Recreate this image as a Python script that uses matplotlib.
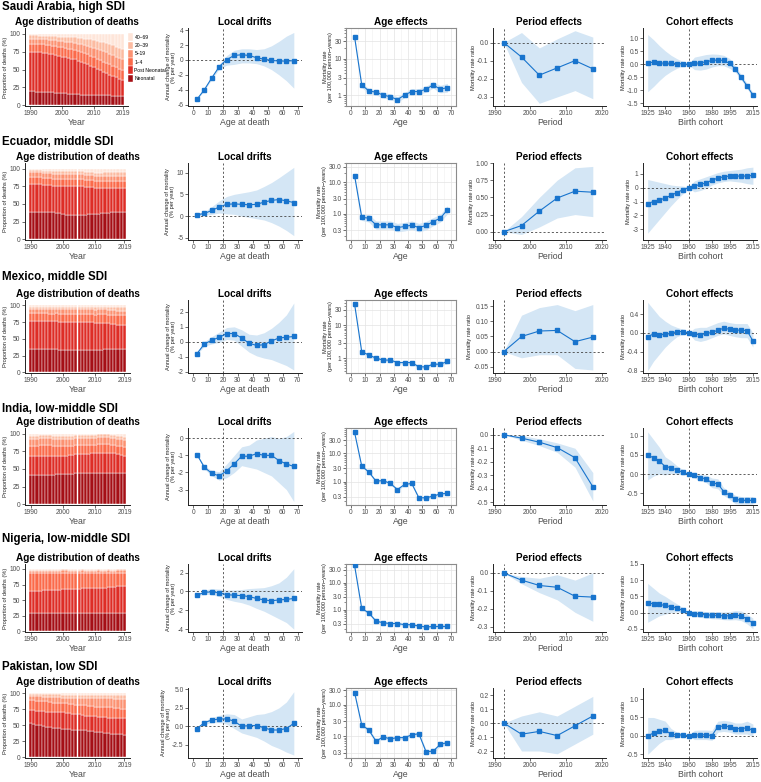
import numpy as np
import matplotlib.pyplot as plt
from matplotlib.ticker import FixedLocator, NullFormatter

plt.rcParams['font.family'] = ['Liberation Sans', 'DejaVu Sans']
plt.rcParams['axes.unicode_minus'] = False

years = np.arange(1990, 2020)
ages = [2.5, 7.5, 12.5, 17.5, 22.5, 27.5, 32.5, 37.5, 42.5, 47.5, 52.5, 57.5, 62.5, 67.5]
periods = [1992.5, 1997.5, 2002.5, 2007.5, 2012.5, 2017.5]
cohorts = list(range(1925, 2016, 5))
groups = ['Neonatal', 'Post Neonatal', '1–4', '5–19', '20–39', '40–69']
group_colors = ['#A50F15', '#DE2D26', '#FB6A4A', '#FC9272', '#FCBBA1', '#FEE5D9']

# ---- Saudi Arabia ----
sa_neo = [20,20,19,19,19,18,18,18,17,17,17,17,16,16,16,16,15,15,15,15,15,14,14,14,14,14,13,13,13,13]
sa_post = [55,55,55,55,54,55,54,53,53,52,51,50,50,49,48,46,46,44,42,40,38,37,35,33,31,29,28,26,24,22]
sa_c14 = [11,11,11,11,12,11,12,12,13,13,13,13,13,13,13,14,13,14,14,14,14,14,14,14,14,14,14,14,14,14]
sa_c519 = [7,7,7,7,7,8,7,8,8,8,9,9,10,10,10,10,11,11,12,13,13,14,14,15,15,15,15,15,15,15]
sa_c2039 = [5,5,6,5,5,5,6,6,6,6,6,7,6,7,8,8,9,9,9,10,11,11,12,12,13,13,14,14,14,14]
sa_drift = [-5.3,-4.0,-2.4,-0.9,0.05,0.6,0.7,0.6,0.3,0.1,-0.05,-0.15,-0.15,-0.1]
sa_drift_lo = [-5.4,-4.1,-2.6,-1.2,-0.7,-0.6,-0.4,-0.4,-0.5,-0.8,-1.3,-2.0,-2.8,-3.8]
sa_drift_hi = [-5.2,-3.9,-2.2,-0.6,0.6,1.3,1.5,1.5,1.4,1.5,1.9,2.5,3.2,3.7]
sa_age = [40,1.9,1.3,1.2,1.0,0.9,0.75,1.0,1.25,1.25,1.45,1.9,1.45,1.6]
sa_age_lo = [36,1.6,1.1,1.0,0.85,0.75,0.63,0.85,1.05,1.05,1.2,1.55,1.15,1.2]
sa_age_hi = [44,2.2,1.5,1.4,1.18,1.08,0.9,1.18,1.5,1.5,1.75,2.3,1.85,2.1]
sa_per = [0,-0.08,-0.18,-0.14,-0.10,-0.145]
sa_per_lo = [0,-0.22,-0.335,-0.30,-0.265,-0.31]
sa_per_hi = [0,0.055,-0.03,0.02,0.065,0.03]
sa_coh = [0.07,0.08,0.05,0.05,0.04,0.03,0.02,0.0,0.04,0.06,0.1,0.15,0.17,0.15,0.04,-0.18,-0.5,-0.83,-1.18]
sa_coh_lo = [-1.05,-0.85,-0.62,-0.42,-0.27,-0.15,-0.07,-0.02,-0.2,-0.22,-0.18,-0.1,-0.05,-0.05,-0.15,-0.3,-0.6,-0.93,-1.28]
sa_coh_hi = [1.15,0.95,0.72,0.52,0.35,0.22,0.11,0.02,0.28,0.33,0.38,0.4,0.39,0.35,0.23,-0.06,-0.4,-0.73,-1.08]

# ---- Ecuador ----
ec_neo = [38,38,38,38,38,38,38,38,37,37,36,35,34,34,34,35,35,35,36,36,36,36,37,37,37,38,38,38,38,38]
ec_post = [40,40,40,40,39,39,39,38,39,39,40,41,42,41,41,40,40,39,38,38,37,37,36,36,36,35,35,35,35,35]
ec_c14 = [10,10,10,10,10,10,10,10,10,10,10,10,10,10,10,10,10,10,10,10,10,10,10,10,10,10,10,10,10,10]
ec_c519 = [7,7,7,7,7,7,7,7,7,7,7,7,7,7,7,7,7,7,7,7,7,7,7,7,7,7,7,7,7,7]
ec_c2039 = [3,3,3,3,3,3,3,3,3,3,4,4,4,4,4,4,4,4,4,4,4,4,4,5,5,5,5,5,5,5]
ec_drift = [0.3,0.6,1.3,2.1,2.7,2.8,2.7,2.6,2.7,3.2,3.6,3.8,3.5,3.1]
ec_drift_lo = [0.1,0.2,0.4,0.7,0.5,0.4,0.0,-0.3,-0.6,-0.9,-1.5,-2.3,-3.3,-4.5]
ec_drift_hi = [0.5,1.0,2.2,3.5,4.5,5.0,5.3,5.6,6.0,6.8,7.7,8.8,10.0,11.2]
ec_age = [16,0.78,0.73,0.45,0.45,0.45,0.37,0.40,0.44,0.37,0.43,0.57,0.73,1.34]
ec_age_lo = [14,0.62,0.55,0.33,0.33,0.33,0.27,0.29,0.32,0.27,0.31,0.42,0.55,1.0]
ec_age_hi = [18,0.98,0.95,0.6,0.6,0.6,0.5,0.54,0.6,0.5,0.58,0.76,0.97,1.8]
ec_per = [0,0.09,0.30,0.49,0.59,0.575]
ec_per_lo = [0,-0.04,0.07,0.20,0.25,0.22]
ec_per_hi = [0,0.22,0.50,0.75,0.93,0.95]
ec_coh = [-1.15,-1.0,-0.9,-0.75,-0.55,-0.35,-0.15,0.0,0.12,0.25,0.35,0.55,0.7,0.8,0.85,0.85,0.85,0.85,0.9]
ec_coh_lo = [-3.3,-2.8,-2.3,-1.8,-1.3,-0.85,-0.45,-0.05,-0.3,-0.2,-0.05,0.2,0.35,0.45,0.5,0.45,0.4,0.3,0.25]
ec_coh_hi = [0.6,0.5,0.4,0.3,0.2,0.15,0.12,0.05,0.5,0.65,0.8,0.95,1.1,1.2,1.25,1.3,1.35,1.45,1.5]

# ---- Mexico ----
mx_neo = [35,35,35,35,35,35,35,35,35,34,34,34,34,34,34,34,34,34,34,34,34,34,34,35,35,35,35,35,35,35]
mx_post = [42,42,42,42,42,42,41,41,41,41,41,41,41,41,41,41,41,41,41,41,40,40,40,39,38,37,37,36,36,36]
mx_c14 = [11,11,11,11,11,11,11,11,12,12,12,12,12,12,12,12,12,12,12,12,12,13,13,13,13,14,14,14,14,14]
mx_c519 = [7,7,7,7,7,7,7,7,7,7,7,7,7,7,7,7,7,7,7,7,7,7,7,7,7,7,7,7,7,7]
mx_c2039 = [3,3,3,3,3,3,3,3,3,3,3,4,4,4,4,4,4,4,4,4,4,4,4,4,5,5,5,5,5,5]
mx_drift = [-0.8,-0.15,0.1,0.3,0.55,0.55,0.25,-0.1,-0.25,-0.2,0.05,0.25,0.3,0.35]
mx_drift_lo = [-0.85,-0.3,-0.15,-0.05,0.15,0.1,-0.3,-0.7,-0.95,-1.1,-1.2,-1.4,-1.6,-1.9]
mx_drift_hi = [-0.75,0.0,0.35,0.65,0.95,1.0,0.8,0.5,0.45,0.6,0.9,1.3,1.8,2.6]
mx_age = [45,1.57,1.24,1.0,0.87,0.87,0.73,0.73,0.73,0.54,0.54,0.65,0.65,0.79]
mx_age_lo = [41,1.42,1.12,0.9,0.78,0.78,0.66,0.66,0.66,0.48,0.48,0.58,0.57,0.68]
mx_age_hi = [49,1.73,1.37,1.1,0.96,0.96,0.81,0.81,0.81,0.6,0.61,0.73,0.74,0.92]
mx_per = [0,0.05,0.068,0.07,0.033,0.048]
mx_per_lo = [0,-0.02,-0.01,-0.01,-0.055,-0.06]
mx_per_hi = [0,0.12,0.145,0.155,0.135,0.155]
mx_coh = [-0.08,-0.02,-0.04,-0.03,-0.01,0.03,0.03,0.0,-0.02,-0.04,-0.01,0.01,0.06,0.1,0.08,0.06,0.06,0.05,-0.17]
mx_coh_lo = [-0.8,-0.6,-0.45,-0.3,-0.18,-0.08,-0.03,-0.01,-0.15,-0.18,-0.15,-0.1,-0.05,-0.02,-0.05,-0.08,-0.1,-0.1,-0.3]
mx_coh_hi = [0.65,0.5,0.35,0.25,0.17,0.12,0.08,0.01,0.1,0.12,0.12,0.17,0.22,0.25,0.22,0.2,0.2,0.2,0.0]

# ---- India ----
in_neo = [41,41,41,42,42,42,42,42,43,43,43,43,43,43,44,44,44,44,44,44,44,45,45,45,45,45,45,45,45,45]
in_post = [27,27,27,27,27,27,27,27,26,26,26,26,27,27,27,27,27,27,27,28,28,28,28,28,28,27,27,26,25,24]
in_c14 = [15,15,15,15,15,15,15,14,14,14,14,14,13,13,13,13,13,13,13,12,12,12,12,12,12,12,12,12,12,12]
in_c519 = [10,10,10,10,10,10,10,10,10,10,10,10,10,10,10,10,10,10,10,10,10,10,10,10,10,10,10,10,10,10]
in_c2039 = [4,4,4,4,4,4,4,4,4,4,4,4,4,4,4,4,4,4,4,4,4,4,4,4,4,4,4,4,4,4]
in_drift = [-0.95,-1.7,-2.05,-2.2,-1.9,-1.5,-1.05,-1.05,-0.9,-1.0,-1.0,-1.3,-1.5,-1.65]
in_drift_lo = [-1.0,-1.8,-2.2,-2.45,-2.3,-2.0,-1.6,-1.7,-1.8,-2.0,-2.2,-2.6,-3.0,-3.7]
in_drift_hi = [-0.9,-1.6,-1.9,-1.95,-1.5,-1.0,-0.5,-0.4,-0.1,0.0,0.1,0.0,0.1,0.4]
in_age = [56,3.6,2.2,1.05,1.1,0.87,0.53,0.8,0.87,0.27,0.27,0.31,0.37,0.39]
in_age_lo = [52,3.3,2.0,0.95,1.0,0.79,0.48,0.72,0.79,0.24,0.24,0.28,0.33,0.35]
in_age_hi = [60,3.9,2.4,1.15,1.2,0.96,0.59,0.88,0.96,0.3,0.3,0.35,0.41,0.44]
in_per = [0,-0.025,-0.055,-0.095,-0.17,-0.385]
in_per_lo = [0,-0.04,-0.08,-0.13,-0.24,-0.49]
in_per_hi = [0,-0.005,-0.03,-0.06,-0.10,-0.28]
in_coh = [0.49,0.43,0.34,0.2,0.17,0.11,0.05,0.0,-0.03,-0.09,-0.12,-0.23,-0.25,-0.45,-0.55,-0.65,-0.68,-0.68,-0.68]
in_coh_lo = [-0.15,-0.05,0.0,-0.02,0.02,0.0,-0.02,-0.01,-0.1,-0.17,-0.22,-0.35,-0.38,-0.55,-0.65,-0.77,-0.78,-0.78,-0.78]
in_coh_hi = [1.1,0.9,0.7,0.45,0.35,0.22,0.12,0.01,0.02,0.0,-0.02,-0.1,-0.12,-0.35,-0.45,-0.55,-0.58,-0.58,-0.58]

# ---- Nigeria ----
ng_neo = [29,29,29,29,29,29,29,30,30,30,30,30,30,30,30,30,30,30,30,30,30,30,30,30,30,30,30,30,30,30]
ng_post = [36,36,36,36,37,37,37,37,37,37,38,38,38,38,38,38,39,39,39,39,39,40,40,40,41,41,41,42,42,42]
ng_c14 = [28,28,28,28,27,27,27,26,26,26,26,26,25,25,25,25,25,24,24,24,24,24,23,23,23,22,22,22,22,22]
ng_c519 = [4,4,4,4,4,4,4,4,4,4,4,4,4,4,4,4,4,4,4,4,4,4,4,4,4,4,4,4,4,4]
ng_c2039 = [2,2,2,2,2,2,2,2,2,2,2,2,2,2,2,2,2,2,2,2,2,2,2,2,2,2,2,2,2,2]
ng_drift = [-0.4,-0.1,-0.05,-0.15,-0.35,-0.4,-0.45,-0.55,-0.75,-0.9,-1.0,-0.9,-0.85,-0.75]
ng_drift_lo = [-0.5,-0.3,-0.35,-0.55,-0.85,-1.05,-1.2,-1.45,-1.8,-2.1,-2.5,-2.9,-3.3,-4.0]
ng_drift_hi = [-0.3,0.15,0.3,0.25,0.15,0.15,0.2,0.3,0.35,0.4,0.6,0.9,1.5,2.4]
ng_age = [44,1.13,0.76,0.38,0.33,0.31,0.31,0.28,0.28,0.25,0.23,0.24,0.24,0.24]
ng_age_lo = [40,1.02,0.68,0.34,0.3,0.28,0.28,0.25,0.25,0.22,0.2,0.21,0.21,0.2]
ng_age_hi = [48,1.25,0.84,0.42,0.37,0.34,0.34,0.31,0.31,0.28,0.26,0.27,0.28,0.29]
ng_per = [0,-0.04,-0.07,-0.08,-0.13,-0.135]
ng_per_lo = [0,-0.06,-0.11,-0.15,-0.22,-0.27]
ng_per_hi = [0,-0.02,-0.03,-0.01,-0.04,0.0]
ng_coh = [0.3,0.27,0.25,0.22,0.18,0.14,0.07,0.0,-0.03,-0.05,-0.07,-0.08,-0.09,-0.1,-0.1,-0.08,-0.1,-0.2,-0.33]
ng_coh_lo = [-0.3,-0.2,-0.1,-0.05,0.0,0.02,0.0,-0.01,-0.12,-0.15,-0.17,-0.19,-0.2,-0.22,-0.23,-0.22,-0.25,-0.35,-0.5]
ng_coh_hi = [0.9,0.75,0.6,0.5,0.38,0.27,0.15,0.01,0.06,0.05,0.03,0.03,0.02,0.02,0.03,0.06,0.05,-0.05,-0.17]

# ---- Pakistan ----
pk_neo = [53,52,51,50,49,48,47,46,45,45,44,44,44,43,43,43,42,42,41,41,40,39,39,38,38,37,37,36,36,35]
pk_post = [20,21,21,22,23,23,24,24,25,25,26,25,25,25,25,24,24,23,23,23,24,24,24,25,24,25,25,25,25,26]
pk_c14 = [16,16,16,16,15,16,15,15,15,14,14,15,14,15,14,15,15,16,16,16,15,16,16,15,16,16,15,16,15,15]
pk_c519 = [6,6,7,7,7,7,8,9,9,10,9,9,10,10,11,11,12,12,13,13,13,13,13,14,14,14,14,14,15,15]
pk_c2039 = [3,3,3,3,4,4,4,4,4,4,4,4,4,4,4,4,4,4,4,4,5,5,5,5,5,5,6,6,6,6]
pk_drift = [-0.3,0.5,0.85,1.0,1.0,0.7,0.0,0.1,0.1,-0.2,-0.5,-0.5,-0.3,0.4]
pk_drift_lo = [-0.35,0.3,0.5,0.5,0.3,-0.3,-0.9,-1.2,-1.5,-2.0,-2.6,-3.0,-3.5,-3.9]
pk_drift_hi = [-0.25,0.7,1.2,1.5,1.7,1.6,1.0,1.3,1.6,1.7,2.0,2.5,3.3,4.7]
pk_age = [25,2.3,1.57,0.69,0.95,0.82,0.9,0.9,1.1,1.2,0.32,0.33,0.55,0.62]
pk_age_lo = [22,2.0,1.38,0.6,0.83,0.72,0.79,0.79,0.96,1.05,0.27,0.28,0.47,0.52]
pk_age_hi = [28,2.6,1.78,0.79,1.08,0.93,1.02,1.02,1.25,1.37,0.37,0.38,0.64,0.74]
pk_per = [0,-0.08,-0.06,-0.09,-0.02,0.05]
pk_per_lo = [0,-0.2,-0.2,-0.22,-0.15,-0.08]
pk_per_hi = [0,0.05,0.08,0.05,0.12,0.19]
pk_coh = [0.0,0.08,0.12,0.15,0.05,0.02,0.03,0.0,0.02,0.03,0.03,0.01,0.25,0.27,0.25,0.2,0.2,0.22,0.15]
pk_coh_lo = [-0.5,-0.35,-0.2,-0.1,-0.1,-0.05,-0.02,-0.01,-0.1,-0.1,-0.1,-0.12,0.1,0.12,0.1,0.05,0.05,0.05,-0.02]
pk_coh_hi = [0.5,0.5,0.45,0.4,0.2,0.1,0.08,0.01,0.15,0.16,0.16,0.15,0.4,0.42,0.4,0.35,0.35,0.4,0.32]

titles = ['Saudi Arabia, high SDI', 'Ecuador, middle SDI', 'Mexico, middle SDI',
          'India, low-middle SDI', 'Nigeria, low-middle SDI', 'Pakistan, low SDI']

rows = [
    dict(bars=[sa_neo, sa_post, sa_c14, sa_c519, sa_c2039],
         drift=(sa_drift, sa_drift_lo, sa_drift_hi), dyl=(-6.2, 4.3), dyt=[-6, -4, -2, 0, 2, 4], dfmt='{:.0f}',
         age=(sa_age, sa_age_lo, sa_age_hi), ayl=(0.5, 70), ayt=[1, 3, 10, 30], afmt='{:g}',
         per=(sa_per, sa_per_lo, sa_per_hi), pyl=(-0.35, 0.08), pyt=[-0.3, -0.2, -0.1, 0.0], pfmt='{:.1f}',
         coh=(sa_coh, sa_coh_lo, sa_coh_hi), cyl=(-1.6, 1.4), cyt=[-1.5, -1.0, -0.5, 0.0, 0.5, 1.0], cfmt='{:.1f}'),
    dict(bars=[ec_neo, ec_post, ec_c14, ec_c519, ec_c2039],
         drift=(ec_drift, ec_drift_lo, ec_drift_hi), dyl=(-5.5, 12.2), dyt=[-5, 0, 5, 10], dfmt='{:.0f}',
         age=(ec_age, ec_age_lo, ec_age_hi), ayl=(0.15, 40), ayt=[0.3, 1, 3, 10, 30], afmt='{:.1f}',
         per=(ec_per, ec_per_lo, ec_per_hi), pyl=(-0.12, 1.0), pyt=[0, 0.25, 0.5, 0.75, 1.0], pfmt='{:.2f}',
         coh=(ec_coh, ec_coh_lo, ec_coh_hi), cyl=(-3.8, 1.8), cyt=[-3, -2, -1, 0, 1], cfmt='{:.0f}'),
    dict(bars=[mx_neo, mx_post, mx_c14, mx_c519, mx_c2039],
         drift=(mx_drift, mx_drift_lo, mx_drift_hi), dyl=(-2.1, 2.8), dyt=[-2, -1, 0, 1, 2], dfmt='{:.0f}',
         age=(mx_age, mx_age_lo, mx_age_hi), ayl=(0.35, 60), ayt=[1, 3, 10, 30], afmt='{:g}',
         per=(mx_per, mx_per_lo, mx_per_hi), pyl=(-0.07, 0.17), pyt=[-0.05, 0, 0.05, 0.1, 0.15], pfmt='{:.2f}',
         coh=(mx_coh, mx_coh_lo, mx_coh_hi), cyl=(-0.85, 0.7), cyt=[-0.8, -0.4, 0.0, 0.4], cfmt='{:.1f}'),
    dict(bars=[in_neo, in_post, in_c14, in_c519, in_c2039],
         drift=(in_drift, in_drift_lo, in_drift_hi), dyl=(-3.9, 0.6), dyt=[-3, -2, -1, 0], dfmt='{:.0f}',
         age=(in_age, in_age_lo, in_age_hi), ayl=(0.15, 80), ayt=[0.3, 1, 3, 10, 30], afmt='{:.1f}',
         per=(in_per, in_per_lo, in_per_hi), pyl=(-0.52, 0.05), pyt=[-0.5, -0.4, -0.3, -0.2, -0.1, 0.0], pfmt='{:.1f}',
         coh=(in_coh, in_coh_lo, in_coh_hi), cyl=(-0.8, 1.2), cyt=[-0.5, 0.0, 0.5, 1.0], cfmt='{:.1f}'),
    dict(bars=[ng_neo, ng_post, ng_c14, ng_c519, ng_c2039],
         drift=(ng_drift, ng_drift_lo, ng_drift_hi), dyl=(-4.3, 2.9), dyt=[-4, -2, 0, 2], dfmt='{:.0f}',
         age=(ng_age, ng_age_lo, ng_age_hi), ayl=(0.15, 50), ayt=[0.3, 1, 3, 10, 30], afmt='{:.1f}',
         per=(ng_per, ng_per_lo, ng_per_hi), pyl=(-0.33, 0.05), pyt=[-0.3, -0.2, -0.1, 0.0], pfmt='{:.1f}',
         coh=(ng_coh, ng_coh_lo, ng_coh_hi), cyl=(-0.6, 1.5), cyt=[-0.5, 0.0, 0.5, 1.0, 1.5], cfmt='{:.1f}'),
    dict(bars=[pk_neo, pk_post, pk_c14, pk_c519, pk_c2039],
         drift=(pk_drift, pk_drift_lo, pk_drift_hi), dyl=(-4.3, 5.2), dyt=[-2.5, 0, 2.5, 5.0], dfmt='{:.1f}',
         age=(pk_age, pk_age_lo, pk_age_hi), ayl=(0.2, 35), ayt=[0.3, 1, 3, 10, 30], afmt='{:.1f}',
         per=(pk_per, pk_per_lo, pk_per_hi), pyl=(-0.25, 0.25), pyt=[-0.2, -0.1, 0, 0.1, 0.2], pfmt='{:.1f}',
         coh=(pk_coh, pk_coh_lo, pk_coh_hi), cyl=(-0.6, 1.3), cyt=[-0.5, 0.0, 0.5, 1.0], cfmt='{:.1f}'),
]

W, H = 761, 782
fig = plt.figure(figsize=(W / 100, H / 100), dpi=100)

def px(l, t, r, b):
    return [l / W, 1 - b / H, (r - l) / W, (b - t) / H]

row_box = [(28, 106), (163, 240), (300, 373), (428, 505), (564, 632), (688, 758)]
title_y = [7, 142, 277, 409, 539, 667]
cols = [(25, 130), (188, 302), (346, 456), (493, 606), (643, 757)]

LINE = '#1874CD'
BAND = '#D4E6F5'
TXT = '#4D4D4D'
TICK_FS = 4.8
YLAB_FS = 4.1
XLAB_FS = 6.3
PTITLE_FS = 7.2

def classic(ax):
    for s in ['top', 'right']:
        ax.spines[s].set_visible(False)
    for s in ['left', 'bottom']:
        ax.spines[s].set_color('#222222')
        ax.spines[s].set_linewidth(0.7)
    ax.tick_params(labelsize=TICK_FS, colors='#333333', labelcolor=TXT, length=2, width=0.5, pad=1.2)

def set_ticks(ax, yt, fmt):
    ax.set_yticks(yt)
    ax.set_yticklabels([fmt.format(v) for v in yt])

def effect_line(ax, x, d):
    val, lo, hi = d
    ax.fill_between(x, lo, hi, color=BAND, lw=0, zorder=1)
    ax.plot(x, val, color=LINE, lw=0.8, marker='s', ms=2.6, zorder=3)

def ref_lines(ax, xv):
    ax.axhline(0, color='#444444', lw=0.6, ls=(0, (2.5, 2.5)), zorder=2)
    ax.axvline(xv, color='#444444', lw=0.6, ls=(0, (2.5, 2.5)), zorder=2)

def labels(ax, xl, yl, title):
    ax.set_ylabel(yl, fontsize=YLAB_FS, color='#222222', labelpad=1.0, linespacing=1.0)
    ax.set_xlabel(xl, fontsize=XLAB_FS, color=TXT, labelpad=0.5)
    ax.set_title(title, fontsize=PTITLE_FS, fontweight='bold', pad=2.5)

for i, r in enumerate(rows):
    top, bot = row_box[i]
    fig.text(2 / W, 1 - title_y[i] / H, titles[i], fontsize=8.3, fontweight='bold', va='center', ha='left')

    # age distribution
    l, rr = cols[0]
    if i == 0:
        rr = 128
    ax = fig.add_axes(px(l, top, rr, bot))
    base = np.zeros(len(years))
    shares = r['bars'] + [100 - np.sum(r['bars'], axis=0)]
    for k, sh in enumerate(shares):
        ax.bar(years, sh, bottom=base, width=1.0, color=group_colors[k], edgecolor='white',
               linewidth=0.3, label=groups[k])
        base = base + np.array(sh)
    ax.set_xlim(1988.3, 2020.7)
    ax.set_ylim(-1, 108)
    ax.set_xticks([1990, 2000, 2010, 2019])
    ax.set_yticks([0, 25, 50, 75, 100])
    classic(ax)
    labels(ax, 'Year', 'Proportion of deaths (%)', 'Age distribution of deaths')
    if i == 0:
        h, lb = ax.get_legend_handles_labels()
        ax.legend(h[::-1], lb[::-1], loc='upper left', bbox_to_anchor=(1.0, 0.93), fontsize=3.6,
                  frameon=False, handlelength=1.0, handleheight=2.0, handletextpad=0.3,
                  labelspacing=0.1, borderaxespad=0, borderpad=0)

    # local drifts
    l, rr = cols[1]
    ax = fig.add_axes(px(l, top, rr, bot))
    effect_line(ax, ages, r['drift'])
    ref_lines(ax, 20)
    ax.set_xlim(-3.5, 73)
    ax.set_ylim(*r['dyl'])
    ax.set_xticks(range(0, 71, 10))
    set_ticks(ax, r['dyt'], r['dfmt'])
    classic(ax)
    labels(ax, 'Age at death', 'Annual change of mortality\n(% per year)', 'Local drifts')

    # age effects
    l, rr = cols[2]
    ax = fig.add_axes(px(l, top, rr, bot))
    effect_line(ax, ages, r['age'])
    ax.set_yscale('log')
    ax.set_xlim(-3.5, 73.5)
    ax.set_ylim(*r['ayl'])
    ax.set_xticks(range(0, 71, 10))
    ax.xaxis.set_minor_locator(FixedLocator(range(5, 71, 10)))
    set_ticks(ax, r['ayt'], r['afmt'])
    ax.yaxis.set_minor_locator(FixedLocator([0.2, 0.4, 0.5, 0.6, 0.7, 0.8, 0.9, 2, 4, 5, 6, 7, 8, 9,
                                             20, 40, 50, 60, 70, 80, 90]))
    ax.yaxis.set_minor_formatter(NullFormatter())
    ax.grid(True, which='major', color='#E3E3E3', lw=0.5, zorder=0)
    ax.grid(True, which='minor', axis='x', color='#F0F0F0', lw=0.4, zorder=0)
    ax.set_axisbelow(True)
    for s in ax.spines.values():
        s.set_color('#8C8C8C')
        s.set_linewidth(0.8)
    ax.tick_params(labelsize=TICK_FS, colors='#333333', labelcolor=TXT, length=2, width=0.5, pad=1.2)
    ax.tick_params(which='minor', length=1.2, width=0.4, colors='#333333')
    ax.tick_params(axis='x', which='minor', length=0)
    labels(ax, 'Age', 'Mortality rate\n(per 100,000 person\u2212years)', 'Age effects')

    # period effects
    l, rr = cols[3]
    ax = fig.add_axes(px(l, top, rr, bot))
    effect_line(ax, periods, r['per'])
    ref_lines(ax, 1992.5)
    ax.set_xlim(1989.5, 2021.2)
    ax.set_ylim(*r['pyl'])
    ax.set_xticks([1990, 2000, 2010, 2020])
    set_ticks(ax, r['pyt'], r['pfmt'])
    classic(ax)
    labels(ax, 'Period', 'Mortality rate ratio', 'Period effects')

    # cohort effects
    l, rr = cols[4]
    ax = fig.add_axes(px(l, top, rr, bot))
    effect_line(ax, cohorts, r['coh'])
    ref_lines(ax, 1960)
    ax.set_xlim(1921, 2018.5)
    ax.set_ylim(*r['cyl'])
    ax.set_xticks([1925, 1940, 1960, 1980, 1995, 2015])
    set_ticks(ax, r['cyt'], r['cfmt'])
    classic(ax)
    labels(ax, 'Birth cohort', 'Mortality rate ratio', 'Cohort effects')

fig.savefig('out.png', dpi=100)
